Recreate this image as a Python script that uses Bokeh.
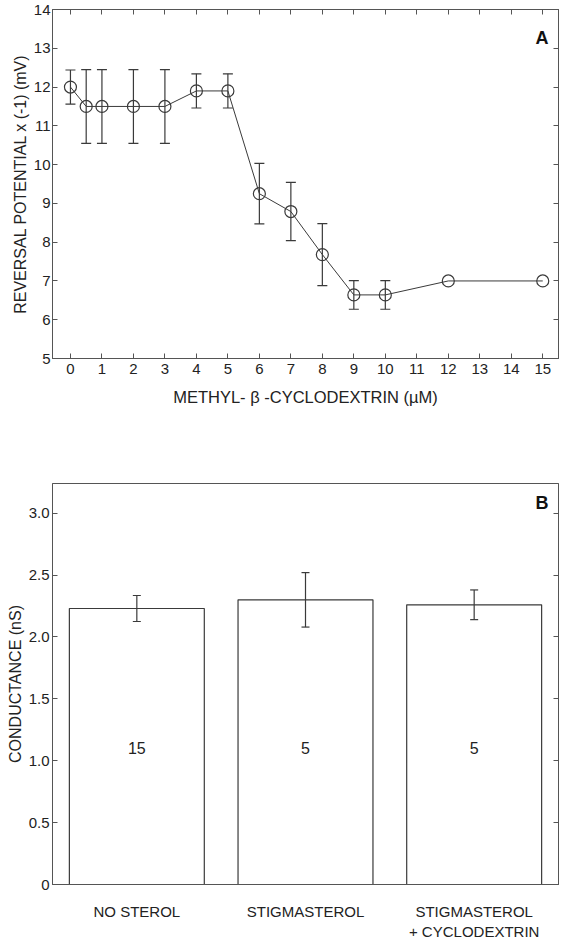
from bokeh.plotting import figure
from bokeh.models import (ColumnDataSource, Whisker, TeeHead, LinearAxis, FixedTicker,
                          Range1d, Label, NumeralTickFormatter)
from bokeh.layouts import column
from bokeh.embed import file_html
from bokeh.resources import INLINE
from bokeh.core.properties import value

# ---------------- data ----------------
# Panel A
conc = [0, 0.5, 1, 2, 3, 4, 5, 6, 7, 8, 9, 10, 12, 15]
potential = [12.0, 11.5, 11.5, 11.5, 11.5, 11.9, 11.9, 9.25, 8.79, 7.68, 6.64, 6.64, 7.0, 7.0]
potential_err = [0.44, 0.95, 0.95, 0.95, 0.95, 0.44, 0.44, 0.78, 0.75, 0.8, 0.37, 0.37, 0, 0]
a_xticks = list(range(0, 16))
a_yticks = list(range(5, 15))

# Panel B
groups = ["NO STEROL", "STIGMASTEROL", "STIGMASTEROL\n+ CYCLODEXTRIN"]
conductance = [2.23, 2.30, 2.26]
conductance_err = [0.105, 0.22, 0.12]
n_cells = ["15", "5", "5"]
b_yticks = [0, 0.5, 1.0, 1.5, 2.0, 2.5, 3.0]

FONT = "Liberation Sans"
LINE = "#3a3a3a"
FRAME = "#555555"
TEXT = "#222222"


def style_axis(ax, size="15px"):
    ax.major_label_text_font = FONT
    ax.major_label_text_font_size = size
    ax.major_label_text_color = TEXT
    ax.axis_label_text_font = FONT
    ax.axis_label_text_font_size = "16px"
    ax.axis_label_text_font_style = "normal"
    ax.axis_label_text_color = TEXT
    ax.axis_line_color = FRAME
    ax.major_tick_line_color = FRAME
    ax.major_tick_in = 5
    ax.major_tick_out = 0
    ax.minor_tick_in = 0
    ax.minor_tick_out = 0
    ax.minor_tick_line_color = None
    ax.major_label_standoff = 2
    ax.axis_label_standoff = 2


def blank_axis(ax):
    ax.major_label_text_font_size = "0px"
    ax.major_label_text_color = None
    ax.major_label_standoff = 0
    ax.axis_line_color = FRAME
    ax.major_tick_line_color = FRAME
    ax.major_tick_in = 5
    ax.major_tick_out = 0
    ax.minor_tick_in = 0
    ax.minor_tick_out = 0
    ax.minor_tick_line_color = None


# ---------------- Panel A ----------------
pa = figure(width=561, height=420, output_backend="svg", toolbar_location=None,
            x_range=Range1d(-0.57, 15.5), y_range=Range1d(5, 14),
            min_border_left=47, min_border_right=3, min_border_top=9, min_border_bottom=62)
pa.xgrid.visible = False
pa.ygrid.visible = False
pa.outline_line_color = FRAME
pa.background_fill_color = "white"
pa.border_fill_color = "white"

style_axis(pa.xaxis[0])
style_axis(pa.yaxis[0])
pa.xaxis[0].ticker = FixedTicker(ticks=a_xticks)
pa.yaxis[0].ticker = FixedTicker(ticks=a_yticks)
pa.xaxis[0].axis_label = "METHYL- \u03b2 -CYCLODEXTRIN (\u00b5M)"
pa.xaxis[0].axis_label_text_font_size = "16.5px"
pa.xaxis[0].major_label_standoff = 5
pa.xaxis[0].axis_label_standoff = 11
pa.yaxis[0].axis_label = "REVERSAL POTENTIAL x (-1) (mV)"

top_a = LinearAxis(ticker=FixedTicker(ticks=a_xticks))
blank_axis(top_a)
pa.add_layout(top_a, "above")
right_a = LinearAxis(ticker=FixedTicker(ticks=a_yticks))
blank_axis(right_a)
pa.add_layout(right_a, "right")

src_a = ColumnDataSource(dict(x=conc, y=potential))
pa.line("x", "y", source=src_a, line_color=LINE, line_width=1)
pa.scatter("x", "y", source=src_a, marker="circle", size=12,
           fill_color=None, line_color=LINE, line_width=1.2)

ex = [c for c, e in zip(conc, potential_err) if e > 0]
eu = [v + e for v, e in zip(potential, potential_err) if e > 0]
el = [v - e for v, e in zip(potential, potential_err) if e > 0]
src_ea = ColumnDataSource(dict(x=ex, upper=eu, lower=el))
pa.add_layout(Whisker(source=src_ea, base="x", upper="upper", lower="lower",
                      level="annotation",
                      line_color=LINE, line_width=1.2,
                      upper_head=TeeHead(size=10, line_color=LINE, line_width=1.2),
                      lower_head=TeeHead(size=10, line_color=LINE, line_width=1.2)))

pa.add_layout(Label(x=15.18, y=13.26, text="A", text_font=FONT, text_font_size="18px",
                    text_font_style="bold", text_color="#111111",
                    text_align="right", text_baseline="middle"))

# ---------------- Panel B ----------------
xs = list(range(len(groups)))
pb = figure(width=561, height=525, output_backend="svg", toolbar_location=None,
            x_range=Range1d(-0.5, 2.5), y_range=Range1d(0, 3.24),
            min_border_left=52, min_border_right=2, min_border_top=63, min_border_bottom=61)
pb.xgrid.visible = False
pb.ygrid.visible = False
pb.outline_line_color = FRAME
pb.background_fill_color = "white"
pb.border_fill_color = "white"

style_axis(pb.xaxis[0])
style_axis(pb.yaxis[0])
pb.xaxis[0].ticker = FixedTicker(ticks=xs)
pb.xaxis[0].major_label_overrides = {i: g for i, g in zip(xs, groups)}
pb.xaxis[0].major_tick_in = 0
pb.xaxis[0].major_label_standoff = 18
pb.yaxis[0].ticker = FixedTicker(ticks=b_yticks)
pb.yaxis[0].formatter = NumeralTickFormatter(format="0.0")
pb.yaxis[0].major_label_overrides = {0: "0"}
pb.yaxis[0].major_label_standoff = 3
pb.yaxis[0].axis_label = "CONDUCTANCE (nS)"

right_b = LinearAxis(ticker=FixedTicker(ticks=b_yticks))
blank_axis(right_b)
pb.add_layout(right_b, "right")

src_b = ColumnDataSource(dict(x=xs, top=conductance,
                              upper=[v + e for v, e in zip(conductance, conductance_err)],
                              lower=[v - e for v, e in zip(conductance, conductance_err)],
                              n=n_cells, ny=[1.1] * len(xs)))
pb.vbar(x="x", top="top", bottom=0, width=0.8, source=src_b,
        fill_color="white", line_color=LINE, line_width=1.2)
pb.add_layout(Whisker(source=src_b, base="x", upper="upper", lower="lower",
                      level="annotation",
                      line_color=LINE, line_width=1.2,
                      upper_head=TeeHead(size=8, line_color=LINE, line_width=1.2),
                      lower_head=TeeHead(size=8, line_color=LINE, line_width=1.2)))
pb.text(x="x", y="ny", text="n", source=src_b, text_font=value(FONT),
        text_font_size="16px", text_color=TEXT, text_align="center", text_baseline="middle")

pb.add_layout(Label(x=2.44, y=3.08, text="B", text_font=FONT, text_font_size="18px",
                    text_font_style="bold", text_color="#111111",
                    text_align="right", text_baseline="middle"))

layout = column(pa, pb)
open("out.html", "w").write(file_html(layout, INLINE))
